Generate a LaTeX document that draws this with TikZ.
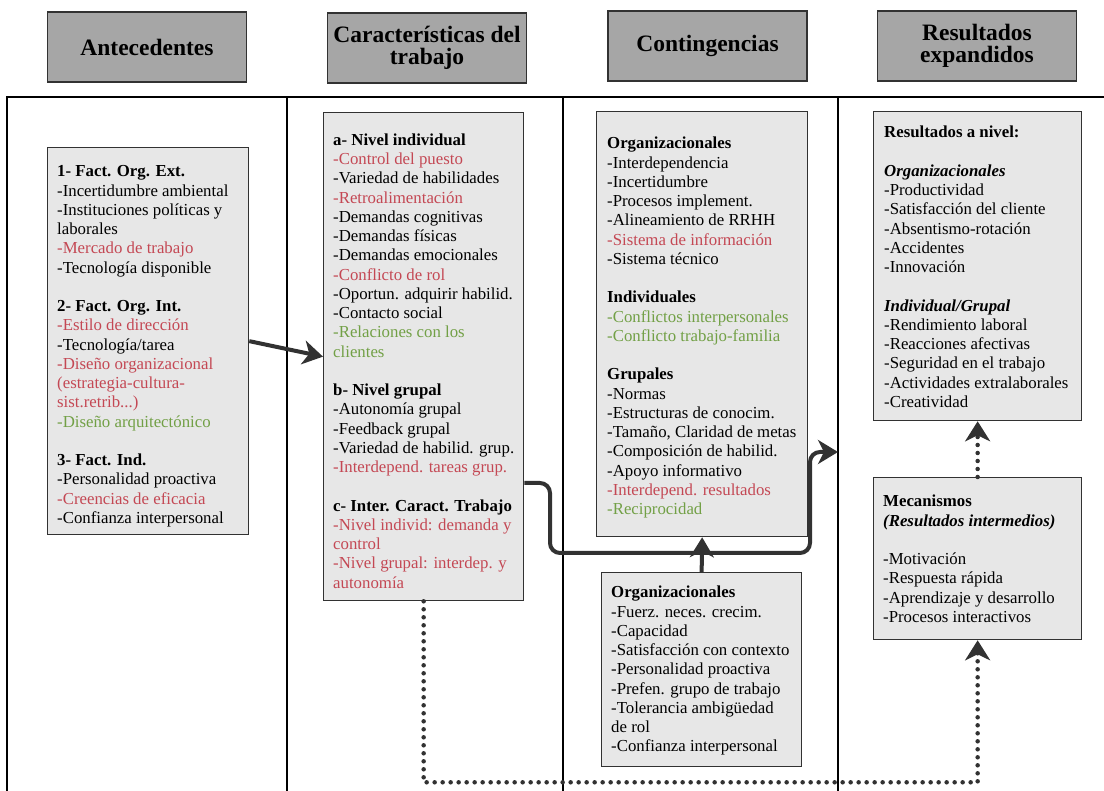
\documentclass[tikz,border=0pt]{standalone}
\usepackage{fontspec}
\setmainfont{Liberation Serif}
\usetikzlibrary{arrows.meta}
\definecolor{rojo}{RGB}{196,72,84}
\definecolor{verde}{RGB}{114,160,70}
\definecolor{gris}{RGB}{166,166,166}
\definecolor{grisclaro}{RGB}{231,231,231}
\definecolor{oscuro}{RGB}{50,50,50}
\newcommand{\rj}[1]{\textcolor{rojo}{#1}}
\newcommand{\vd}[1]{\textcolor{verde}{#1}}
\begin{document}
\begin{tikzpicture}[x=1pt,y=-1pt,
  titulo/.style={draw=oscuro, line width=1.3pt, fill=gris, minimum width=199pt, minimum height=70pt, inner sep=0pt, align=center, font=\fontsize{23.5}{22}\selectfont\bfseries},
  caja/.style={draw=oscuro, line width=1.3pt, fill=grisclaro, inner sep=0pt, anchor=north west},
  texto/.style={anchor=north west, inner sep=0pt, align=left, font=\fontsize{16.8}{19.25}\selectfont},
  flecha/.style={draw=oscuro, line width=4pt, -{Stealth[length=20pt,width=24pt,inset=6pt]}},
  punteada/.style={draw=oscuro, line width=4.5pt, line cap=round, dash pattern=on 0pt off 8pt, -{Stealth[length=20pt,width=25pt,inset=6pt]}}]
  \useasboundingbox (0,0) rectangle (1104,791);
  \node[titulo] (antec) at (147,47) {Antecedentes};
  \node[titulo] (carac) at (427,48) {Características del\\trabajo};
  \node[titulo] (conti) at (707.5,46) {Contingencias};
  \node[titulo] (resul) at (977,46) {Resultados\\expandidos};
  \draw[line width=1.5pt] (7,791) -- (7,97) -- (1104,97);
  \foreach \x in {287,563,838}
    \draw[line width=1.5pt] (\x,97) -- (\x,791);
  \node[caja, minimum width=201pt, minimum height=387pt] (ant) at (47,147) {};
  \node[caja, minimum width=200pt, minimum height=488pt] (car) at (323,112) {};
  \node[caja, minimum width=211pt, minimum height=425pt] (con) at (596,111) {};
  \node[caja, minimum width=200pt, minimum height=194pt] (mod) at (601,572) {};
  \node[caja, minimum width=208pt, minimum height=309pt] (res) at (873,111) {};
  \node[caja, minimum width=208pt, minimum height=162pt] (mec) at (873,477) {};
  \node[texto] (antT) at ([shift={(10,18.5)}]ant.north west) {\textbf{1- Fact. Org. Ext.}\\
    -Incertidumbre ambiental\\
    -Instituciones políticas y\\
    laborales\\
    \rj{-Mercado de trabajo}\\
    -Tecnología disponible\\[19.25pt]
    \textbf{2- Fact. Org. Int.}\\
    \rj{-Estilo de dirección}\\
    -Tecnología/tarea\\
    \rj{-Diseño organizacional}\\
    \rj{(estrategia-cultura-}\\
    \rj{sist.retrib...)}\\
    \vd{-Diseño arquitectónico}\\[19.25pt]
    \textbf{3- Fact. Ind.}\\
    -Personalidad proactiva\\
    \rj{-Creencias de eficacia}\\
    -Confianza interpersonal};
  \node[texto] (carT) at ([shift={(10,21.5)}]car.north west) {\textbf{a- Nivel individual}\\
    \rj{-Control del puesto}\\
    -Variedad de habilidades\\
    \rj{-Retroalimentación}\\
    -Demandas cognitivas\\
    -Demandas físicas\\
    -Demandas emocionales\\
    \rj{-Conflicto de rol}\\
    -Oportun. adquirir habilid.\\
    -Contacto social\\
    \vd{-Relaciones con los}\\
    \vd{clientes}\\[19.25pt]
    \textbf{b- Nivel grupal}\\
    -Autonomía grupal\\
    -Feedback grupal\\
    -Variedad de habilid. grup.\\
    \rj{-Interdepend. tareas grup.}\\[19.25pt]
    \textbf{c- Inter. Caract. Trabajo}\\
    \rj{-Nivel individ: demanda y}\\
    \rj{control}\\
    \rj{-Nivel grupal: interdep. y}\\
    \rj{autonomía}};
  \node[texto] (conT) at ([shift={(11,26)}]con.north west) {\textbf{Organizacionales}\\
    -Interdependencia\\
    -Incertidumbre\\
    -Procesos implement.\\
    -Alineamiento de RRHH\\
    \rj{-Sistema de información}\\
    -Sistema técnico\\[19.25pt]
    \textbf{Individuales}\\
    \vd{-Conflictos interpersonales}\\
    \vd{-Conflicto trabajo-familia}\\[19.25pt]
    \textbf{Grupales}\\
    -Normas\\
    -Estructuras de conocim.\\
    -Tamaño, Claridad de metas\\
    -Composición de habilid.\\
    -Apoyo informativo\\
    \rj{-Interdepend. resultados}\\
    \vd{-Reciprocidad}};
  \node[texto] (modT) at ([shift={(10,14)}]mod.north west) {\textbf{Organizacionales}\\
    -Fuerz. neces. crecim.\\
    -Capacidad\\
    -Satisfacción con contexto\\
    -Personalidad proactiva\\
    -Prefen. grupo de trabajo\\
    -Tolerancia ambigüedad\\
    de rol\\
    -Confianza interpersonal};
  \node[texto] (resT) at ([shift={(11,15)}]res.north west) {\textbf{Resultados a nivel:}\\[19.25pt]
    \textbf{\textit{Organizacionales}}\\
    -Productividad\\
    -Satisfacción del cliente\\
    -Absentismo-rotación\\
    -Accidentes\\
    -Innovación\\[19.25pt]
    \textbf{\textit{Individual/Grupal}}\\
    -Rendimiento laboral\\
    -Reacciones afectivas\\
    -Seguridad en el trabajo\\
    -Actividades extralaborales\\
    -Creatividad};
  \node[texto] (mecT) at ([shift={(10,18)}]mec.north west) {\textbf{Mecanismos}\\
    \textbf{\textit{(Resultados intermedios)}}\\[19.25pt]
    -Motivación\\
    -Respuesta rápida\\
    -Aprendizaje y desarrollo\\
    -Procesos interactivos};
  \coordinate (fin) at (838,452);
  \draw[flecha] (ant.east) -- (car.west);
  \draw[flecha, rounded corners=10pt] (car.north east) ++(0,371) -- (550,483) -- (550,553) -- (810,553) -- (810,452) -- (fin);
  \draw[flecha] (mod.north) -- (con.south);
  \draw[punteada] (car.south) -- ++(0,181) -| (mec.south);
  \draw[punteada] (mec.north) -- (res.south);
\end{tikzpicture}
\end{document}
